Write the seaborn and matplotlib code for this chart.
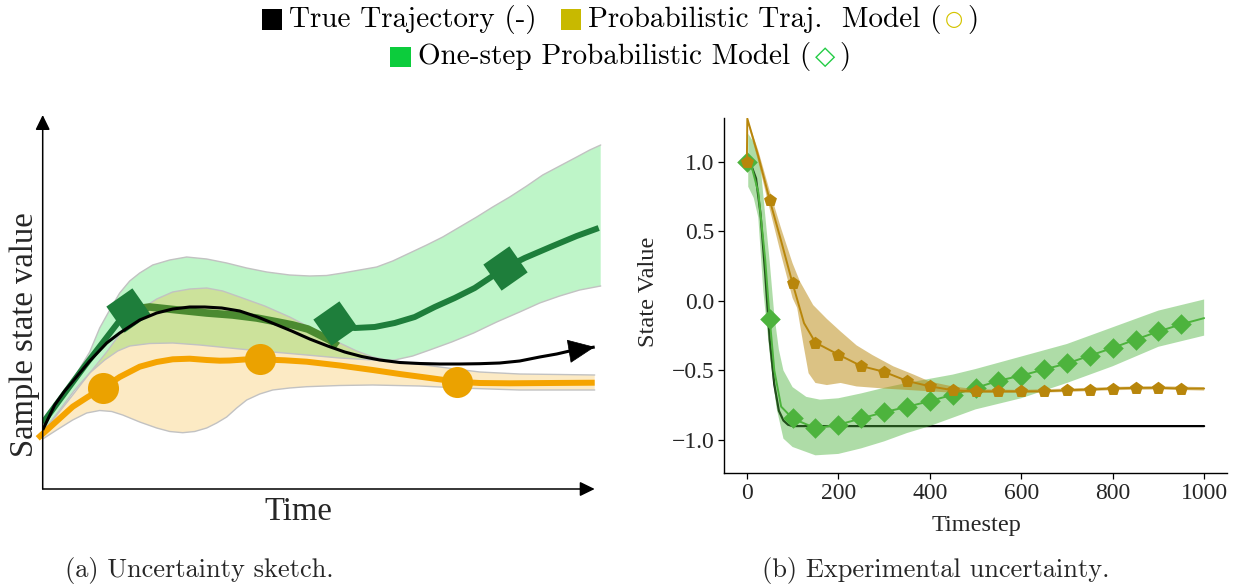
import numpy as np
import matplotlib
matplotlib.use("Agg")
import matplotlib.pyplot as plt
import seaborn as sns
from matplotlib.offsetbox import TextArea, HPacker, VPacker, DrawingArea, AnchoredOffsetbox
from matplotlib.patches import Rectangle

# ---------------- (a) sketch data (arbitrary sketch units) ----------------
sketch_true_x = [0, 12, 22, 32, 47, 64, 77, 97, 114, 130, 147, 162, 179, 197, 215, 232, 249,
                 267, 285, 302, 319, 337, 357, 377, 397, 417, 437, 457, 477, 497, 514, 527,
                 540, 552]
sketch_true_y = [59, 84, 98, 110, 128, 146, 156, 169, 176, 180, 182, 182, 181, 178, 172, 165,
                 158, 150, 143, 137, 132.5, 129, 126.5, 125.5, 125, 125, 125.3, 126, 128, 132,
                 135, 138, 140, 142]

onestep_a_x = [0, 42, 85]
onestep_a_y = [66, 123, 179]
onestep_b_x = [85, 107, 135, 164, 190, 214, 235, 250, 265, 277, 287, 295]
onestep_b_y = [179, 182, 179, 176, 174, 171, 167, 164, 160, 154, 149, 143]
onestep_c_x = [292, 312, 332, 352, 372, 392, 412, 432, 462, 482, 510, 534, 556]
onestep_c_y = [166, 161, 162, 166, 172, 182, 191, 201, 221, 231, 243, 253, 261]
onestep_mark_x = [85, 292, 462]
onestep_mark_y = [179, 166, 221]
onestep_up_x = [0, 17, 30, 47, 57, 67, 77, 87, 97, 110, 127, 144, 164, 184, 204, 224, 247,
                267, 284, 300, 317, 334, 350, 367, 384, 400, 417, 434, 450, 467, 484, 500,
                517, 534, 547, 558]
onestep_up_y = [64, 89, 109, 137, 161, 179, 196, 208, 216, 224, 229, 232, 230, 226, 221, 217,
                214, 213, 213.5, 216, 219, 222, 228, 236, 244, 252, 262, 272, 282, 292, 303,
                314, 323, 332, 339, 344]
onestep_lo_x = [0, 17, 32, 47, 62, 75, 87, 107, 130, 157, 197, 230, 264, 297, 330, 352, 370,
                387, 409, 431, 454, 477, 497, 517, 537, 558]
onestep_lo_y = [57, 79, 99, 116, 129, 138, 143, 145.5, 146, 144, 140, 137, 134, 131, 129, 129,
                133, 139, 147, 156, 167, 177, 186, 193, 199, 203]

traj_x = [-5, 12, 30, 45, 60, 77, 97, 114, 130, 147, 164, 177, 187, 202, 217, 242, 264, 297,
          330, 357, 387, 414, 437, 467, 507, 552]
traj_y = [50.7, 66, 82.3, 92, 100.7, 112, 122.3, 127, 129.7, 130.3, 129, 128.3, 128.5, 129.5,
          129.7, 128.7, 127.3, 123.5, 119, 115, 111, 107.3, 106, 105.7, 106, 106.3]
traj_mark_x = [60, 217, 414]
traj_mark_y = [100.7, 129.7, 107.3]
traj_up_x = [0, 15, 30, 47, 64, 80, 97, 114, 130, 147, 164, 180, 197, 222, 247, 272, 297, 314,
             330, 347, 364, 382, 397, 417, 437, 457, 477, 517, 552]
traj_up_y = [56, 75, 94, 116, 137, 159, 179, 190, 197, 200, 201, 198, 192, 183, 172, 159, 146,
             138, 132, 128.5, 126, 124, 122, 119.5, 117, 116, 115, 114.5, 114]
traj_lo_x = [0, 14, 30, 44, 57, 69, 80, 97, 114, 127, 140, 152, 164, 174, 184, 194, 204, 217,
             230, 247, 264, 297, 330, 377, 417, 477, 552]
traj_lo_y = [50, 59, 69, 76, 78.5, 77.5, 74, 67, 61, 57.5, 56.3, 57.5, 61, 66, 72, 81, 89, 95,
             99, 101, 102.3, 103.5, 104, 103, 101, 99, 99]

# ---------------- (b) experimental data ----------------
true_t = [0, 10, 20, 30, 40, 50, 60, 70, 80, 90, 100, 1000]
true_v = [1.0, 0.97, 0.88, 0.62, 0.2, -0.28, -0.6, -0.79, -0.86, -0.89, -0.9, -0.9]

step_t = [0, 10, 25, 40, 50, 60, 75, 100, 150, 200, 250, 300, 350, 400, 450, 500,
          550, 600, 650, 700, 750, 800, 850, 900, 950, 1000]
step_v = [1.0, 0.97, 0.78, 0.3, -0.13, -0.5, -0.76, -0.845, -0.915, -0.89, -0.845, -0.80,
          -0.762, -0.72, -0.675, -0.626, -0.574, -0.537, -0.493, -0.45, -0.394, -0.338,
          -0.278, -0.22, -0.168, -0.124]
step_up_t = [3, 15, 30, 40, 50, 60, 70, 80, 100, 130, 160, 200, 250, 300, 350, 400, 450,
             500, 600, 700, 800, 900, 1000]
step_up_v = [1.2, 1.14, 0.97, 0.62, 0.28, -0.1, -0.35, -0.5, -0.62, -0.69, -0.71, -0.70,
             -0.665, -0.625, -0.59, -0.56, -0.53, -0.49, -0.40, -0.31, -0.19, -0.07, 0.01]
step_lo_t = [3, 15, 25, 36, 51, 65, 80, 100, 150, 200, 250, 300, 350, 400, 450, 500, 600,
             700, 800, 900, 1000]
step_lo_v = [0.82, 0.74, 0.6, 0.07, -0.41, -0.77, -0.99, -1.05, -1.11, -1.10, -1.06, -1.01,
             -0.95, -0.90, -0.84, -0.78, -0.70, -0.59, -0.47, -0.33, -0.25]

ptm_t = [0, 1, 25, 50, 75, 100, 125, 150, 200, 250, 300, 350, 400, 450, 500, 550, 600,
         650, 700, 750, 800, 850, 900, 950, 1000]
ptm_v = [1.0, 1.31, 1.04, 0.724, 0.43, 0.125, -0.16, -0.30, -0.386, -0.468, -0.51, -0.575,
         -0.614, -0.642, -0.65, -0.65, -0.65, -0.65, -0.642, -0.637, -0.63, -0.625, -0.625,
         -0.63, -0.63]
ptm_up_t = [1, 25, 50, 75, 100, 116, 145, 175, 205, 240, 275, 320, 365, 400, 450, 500, 600,
            700, 800, 900, 1000]
ptm_up_v = [1.31, 1.08, 0.79, 0.52, 0.27, 0.14, -0.03, -0.13, -0.22, -0.32, -0.39, -0.47,
            -0.53, -0.58, -0.615, -0.635, -0.64, -0.63, -0.618, -0.613, -0.62]
ptm_lo_t = [1, 25, 50, 75, 100, 110, 124, 135, 150, 175, 205, 240, 300, 400, 450, 500, 600,
            700, 800, 900, 1000]
ptm_lo_v = [1.29, 1.0, 0.66, 0.33, 0.02, -0.05, -0.32, -0.52, -0.59, -0.605, -0.59, -0.615,
            -0.63, -0.65, -0.66, -0.662, -0.662, -0.655, -0.642, -0.637, -0.645]

x_ticks = [0, 200, 400, 600, 800, 1000]
y_ticks = [-1.0, -0.5, 0.0, 0.5, 1.0]

legend_true = "True Trajectory (-)"
legend_traj = ("Probabilistic Traj.  Model (", "\u25CB", ")")
legend_step = ("One-step Probabilistic Model (", "\u25C7", ")")
caption_a = "(a) Uncertainty sketch."
caption_b = "(b) Experimental uncertainty."

# ---------------- style ----------------
sns.set_style("ticks")
plt.rcParams["font.family"] = ["Liberation Serif", "DejaVu Serif"]
plt.rcParams["axes.unicode_minus"] = True
CM = ["cmr10", "DejaVu Serif"]

W, H = 1241, 584
fig = plt.figure(figsize=(W / 100, H / 100), dpi=100)

DARK_GREEN = "#1e7e3b"
MID_GREEN = "#4b8a30"
ORANGE_LINE = "#f5a400"
ORANGE_DOT = "#eba200"
EDGE = "#c2c2c2"

# ================= (a) Uncertainty sketch =================
axL = fig.add_axes([42.7 / W, 95 / H, 560 / W, 374 / H])
axL.patch.set_alpha(0)

axL.fill(np.r_[onestep_up_x, onestep_lo_x[::-1]], np.r_[onestep_up_y, onestep_lo_y[::-1]],
         color="#bef5c8", lw=0, zorder=1)
axL.fill(np.r_[traj_up_x, traj_lo_x[::-1]], np.r_[traj_up_y, traj_lo_y[::-1]],
         color=(247 / 255, 174 / 255, 28 / 255), alpha=0.26, lw=0, zorder=1.1)
for ex, ey in [(onestep_up_x, onestep_up_y), (onestep_lo_x, onestep_lo_y),
               (traj_up_x, traj_up_y), (traj_lo_x, traj_lo_y)]:
    sns.lineplot(x=ex, y=ey, ax=axL, color=EDGE, lw=1.0, zorder=1.5)

sns.lineplot(x=traj_x, y=traj_y, ax=axL, color=ORANGE_LINE, lw=4.3, zorder=2,
             clip_on=False, solid_capstyle="butt", solid_joinstyle="round")
sns.scatterplot(x=traj_mark_x, y=traj_mark_y, ax=axL, s=500, color=ORANGE_DOT,
                linewidth=0, zorder=2.2)

sns.lineplot(x=onestep_a_x, y=onestep_a_y, ax=axL, color=DARK_GREEN, lw=4.3, zorder=3,
             solid_capstyle="butt")
sns.lineplot(x=onestep_b_x, y=onestep_b_y, ax=axL, color=MID_GREEN, lw=5.5, zorder=3,
             solid_capstyle="butt", solid_joinstyle="round")
sns.lineplot(x=onestep_c_x, y=onestep_c_y, ax=axL, color=DARK_GREEN, lw=4.3, zorder=3,
             solid_capstyle="butt", solid_joinstyle="round")
sns.scatterplot(x=onestep_mark_x, y=onestep_mark_y, ax=axL, marker=(4, 0, -10), s=1050,
                color=DARK_GREEN, linewidth=0, zorder=4)

sns.lineplot(x=sketch_true_x, y=sketch_true_y, ax=axL, color="black", lw=2.2, zorder=5,
             solid_capstyle="butt", solid_joinstyle="round")
axL.annotate("", xy=(sketch_true_x[-1], sketch_true_y[-1]),
             xytext=(sketch_true_x[-2], sketch_true_y[-2]), annotation_clip=False,
             arrowprops=dict(arrowstyle="-|>,head_length=0.9,head_width=0.4", color="black",
                             lw=0.5, shrinkA=0, shrinkB=0, mutation_scale=20), zorder=5)

axL.set_xlim(0, 560)
axL.set_ylim(0, 374)
for sp in axL.spines.values():
    sp.set_visible(False)
axL.set_xticks([])
axL.set_yticks([])
axis_arrow = dict(arrowstyle="-|>,head_length=0.45,head_width=0.22", color="black", lw=1.1,
                  shrinkA=0, shrinkB=0, mutation_scale=20)
axL.annotate("", xy=(552, 0), xytext=(0, 0), arrowprops=axis_arrow, annotation_clip=False)
axL.annotate("", xy=(0, 374), xytext=(0, 0), arrowprops=axis_arrow, annotation_clip=False)

axL.set_ylabel("Sample state value", fontsize=23.5, va="center")
axL.yaxis.set_label_coords((25 - 42.7) / 560, (489 - 334.5) / 374)
axL.set_xlabel("Time", fontsize=23.5, va="center")
axL.xaxis.set_label_coords((298 - 42.7) / 560, (489 - 512) / 374)

# ================= (b) Experimental uncertainty =================
axR = fig.add_axes([724 / W, 111 / H, 503 / W, 355 / H])
GREEN = "#4db33d"
BROWN = "#b8860b"

sns.lineplot(x=true_t, y=true_v, ax=axR, color="black", lw=1.6, zorder=2)

axR.fill(np.r_[step_up_t, step_lo_t[::-1]], np.r_[step_up_v, step_lo_v[::-1]],
         color=GREEN, alpha=0.45, lw=0, zorder=2.5)
sns.lineplot(x=step_t, y=step_v, ax=axR, color=GREEN, lw=1.4, zorder=3)
step_mk = [(t, v) for t, v in zip(step_t, step_v) if t % 50 == 0 and t < 1000]
sns.scatterplot(x=[p[0] for p in step_mk], y=[p[1] for p in step_mk], ax=axR, marker="D",
                s=110, color=GREEN, linewidth=0, zorder=3.2)

axR.fill(np.r_[ptm_up_t, ptm_lo_t[::-1]], np.r_[ptm_up_v, ptm_lo_v[::-1]],
         color=BROWN, alpha=0.5, lw=0, zorder=3.5)
sns.lineplot(x=ptm_t, y=ptm_v, ax=axR, color=BROWN, lw=1.4, zorder=4)
ptm_mk = [(t, v) for t, v in zip(ptm_t, ptm_v) if t % 50 == 0 and t < 1000]
sns.scatterplot(x=[p[0] for p in ptm_mk], y=[p[1] for p in ptm_mk], ax=axR, marker="p",
                s=95, color=BROWN, linewidth=0, zorder=4.2)

axR.set_xlim(-50, 1050)
axR.set_ylim(-1.237, 1.314)
axR.set_xticks(x_ticks)
axR.set_yticks(y_ticks)
axR.set_xticklabels([str(t) for t in x_ticks])
axR.set_yticklabels([f"{v:.1f}".replace("-", "\u2212") for v in y_ticks])
axR.tick_params(labelsize=17, length=4, width=0.9, direction="out", pad=3, color="black")
sns.despine(ax=axR)
for sp in ("left", "bottom"):
    axR.spines[sp].set_linewidth(1.0)
    axR.spines[sp].set_color("black")
axR.set_ylabel("State Value", fontsize=17.5, va="center")
axR.yaxis.set_label_coords((648.5 - 724) / 503, (466 - 285) / 355)
axR.set_xlabel("Timestep", fontsize=17.5, va="center")
axR.xaxis.set_label_coords((976 - 724) / 503, (466 - 519) / 355)

# ================= shared legend =================
LFS = 21


def swatch(color):
    da = DrawingArea(14.5, 14.5, 0, 0)
    da.add_artist(Rectangle((0, 0), 14.5, 14.5, fc=color, ec="none"))
    return da


def txt(s, color="black", family=CM, size=LFS):
    return TextArea(s, textprops=dict(color=color, family=family, size=size))


entry_true = HPacker(children=[swatch("black"), txt(legend_true)], align="center", pad=0, sep=5)
entry_traj = HPacker(children=[swatch("#c8b900"), HPacker(children=[
    txt(legend_traj[0]),
    txt(legend_traj[1], color="#d4c400", family=["DejaVu Sans"], size=15),
    txt(legend_traj[2])], align="center", pad=0, sep=3)], align="center", pad=0, sep=5)
entry_step = HPacker(children=[swatch("#0ccc3c"), HPacker(children=[
    txt(legend_step[0]),
    txt(legend_step[1], color="#22cc44", family=["DejaVu Sans"], size=19),
    txt(legend_step[2])], align="center", pad=0, sep=3)], align="center", pad=0, sep=5)
row1 = HPacker(children=[entry_true, entry_traj], align="center", pad=0, sep=17)
box = VPacker(children=[row1, entry_step], align="center", pad=0, sep=6)
fig.add_artist(AnchoredOffsetbox(loc="upper center", child=box, pad=0, borderpad=0,
                                 frameon=False, bbox_to_anchor=(0.5, 1 - 5 / H),
                                 bbox_transform=fig.transFigure))

# ================= captions =================
fig.text(199 / W, 1 - 570 / H, caption_a, ha="center", va="center", family=CM, size=19)
fig.text(936 / W, 1 - 570 / H, caption_b, ha="center", va="center", family=CM, size=19)

fig.savefig("out.png", dpi=100)
